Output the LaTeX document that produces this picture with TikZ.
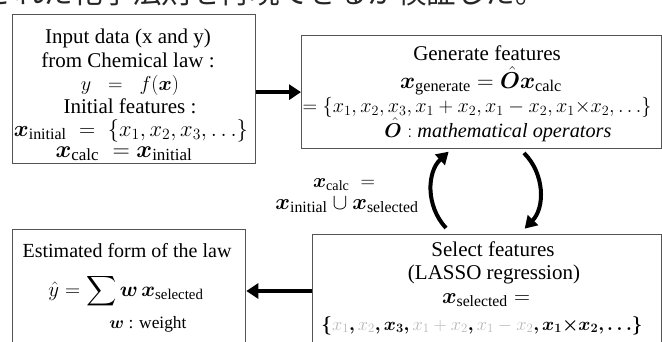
\documentclass[tikz,border=0pt]{standalone}
\usepackage{amsmath,bm,graphicx}
\usepackage{fontspec}
\setmainfont{Liberation Serif}
\newfontfamily\jpfont{Noto Sans CJK JP}
\usetikzlibrary{arrows.meta}
\definecolor{lg}{gray}{0.72}
\definecolor{frame}{gray}{0.33}
\newcommand{\fitw}[2]{\resizebox{#1pt}{!}{#2}}
\begin{document}
\begin{tikzpicture}[x=1pt,y=-1pt,
  boxframe/.style={draw=frame, line width=1.3pt, inner sep=0pt, anchor=north west},
  txt/.style={anchor=base, inner sep=0pt, font=\fontsize{21}{24}\selectfont},
  bigarrow/.style={line width=4pt, -{Triangle[length=12pt,width=15pt]}},
  arcarrow/.style={line width=4pt, -{Triangle[length=12pt,width=14pt]}},
]
\clip (0,0) rectangle (662,341);
\node[anchor=base west, inner sep=0pt, font=\jpfont\fontsize{29.5}{30}\selectfont, text=black!85] (jp) at (-15.5,3) {された化学法則を再現できるか検証した。};

% boxes
\node[boxframe, minimum width=243pt, minimum height=149pt] (b1) at (12,14) {};
\node[boxframe, minimum width=360pt, minimum height=113pt] (b2) at (301,35) {};
\node[boxframe, minimum width=349pt, minimum height=150pt] (b3) at (312,234) {};
\node[boxframe, minimum width=233pt, minimum height=150pt] (b4) at (12,229) {};

% box 1 text
\node[txt] (t11) at (128,43) {Input data (x and y)};
\node[txt] (t12) at (128,67) {from Chemical law :};
\node[txt] (t13) at (130,90) {\fitw{98}{$y\;\;=\;\;f(\bm{x})$}};
\node[txt] (t14) at (130,113) {Initial features :};
\node[txt] (t15) at (131,136) {\fitw{234}{$\bm{x}_{\mathrm{initial}}\;=\;\{x_1,x_2,x_3,\ldots\}$}};
\node[txt] (t16) at (124,157) {\fitw{137}{$\bm{x}_{\mathrm{calc}}\;=\bm{x}_{\mathrm{initial}}$}};

% box 2 text
\node[txt] (t21) at (487,60) {Generate features};
\node[txt] (t22) at (481,88) {\fitw{162}{$\bm{x}_{\mathrm{generate}}=\hat{\bm{O}}\bm{x}_{\mathrm{calc}}$}};
\node[txt] (t23) at (477,112) {\fitw{349}{$=\{x_1,x_2,x_3,x_1+x_2,x_1-x_2,x_1{\times}x_2,\ldots\}$}};
\node[txt] (t24) at (498,137) {\fitw{227}{$\hat{\bm{O}}:$ $\mathit{mathematical\ operators}$}};

% loop label
\node[txt] (c1) at (344,187) {\fitw{62}{$\bm{x}_{\mathrm{calc}}\;=$}};
\node[txt] (c2) at (347,209) {\fitw{143}{$\bm{x}_{\mathrm{initial}}\cup\bm{x}_{\mathrm{selected}}$}};

% box 3 text
\node[txt] (t31) at (493,256) {Select features};
\node[txt] (t32) at (494,279) {(LASSO regression)};
\node[txt] (t33) at (486,303) {\fitw{88}{$\bm{x}_{\mathrm{selected}}=$}};
\node[txt] (t34) at (482,330) {\fitw{321}{$\bm{\{}\textcolor{lg}{x_1}\mathpunct{\bm{,}}\textcolor{lg}{x_2}\mathpunct{\bm{,}}\bm{x_3}\mathpunct{\bm{,}}\textcolor{lg}{x_1+x_2}\mathpunct{\bm{,}}\textcolor{lg}{x_1-x_2}\mathpunct{\bm{,}}\bm{x_1{\times}x_2}\mathpunct{\bm{,}}\bm{\ldots}\bm{\}}$}};

% box 4 text
\node[txt, font=\fontsize{20}{24}\selectfont] (t41) at (127,257) {Estimated form of the law};
\node[txt] (t42) at (126,296) {\fitw{155}{$\hat{y}=\displaystyle\sum\bm{w}\,\bm{x}_{\mathrm{selected}}$}};
\node[txt] (t43) at (148,328) {\fitw{77}{$\bm{w}$ : weight}};

% connectors
\draw[bigarrow] (b1.east |- b2.west) -- (b2.west);
\draw[bigarrow] (b3.west |- 0,291) -- (b4.east |- 0,291);
\coordinate (la) at (446,228);
\coordinate (ra) at (524,153);
\draw[arcarrow] (la) arc[start angle=137, end angle=227, radius=54];
\draw[arcarrow] (ra) arc[start angle=-45, end angle=44, radius=54];
\end{tikzpicture}
\end{document}
